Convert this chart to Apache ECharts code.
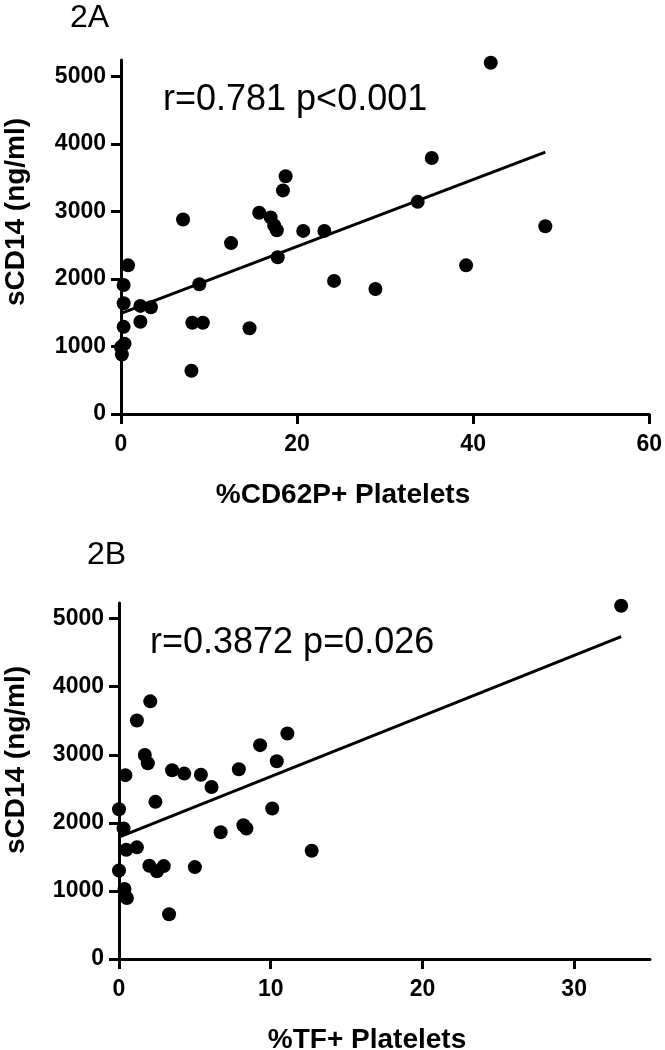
<!DOCTYPE html>
<html>
<head>
<meta charset="utf-8">
<script src="https://cdn.jsdelivr.net/npm/echarts@6/dist/echarts.min.js"></script>
<style>
html,body{margin:0;padding:0;background:#fff;}
#chart{width:665px;height:1050px;}
</style>
</head>
<body>
<div id="chart"></div>
<script>
// ---- Data ----
// Panel 2A: %CD62P+ platelets vs sCD14 (ng/ml)
var cd62pX = [0.1, 0.0, 0.4, 0.3, 0.3, 0.3, 0.8, 2.2, 3.4, 2.2, 8.1, 9.3, 8.0, 8.9, 7.05, 12.5, 14.6, 15.7, 17.0, 17.4, 17.7, 17.8, 18.4, 18.7, 20.7, 23.1, 24.2, 28.9, 33.7, 35.3, 39.2, 42.0, 48.2];
var cd62pY = [880, 990, 1040, 1290, 1640, 1910, 2200, 1600, 1580, 1365, 1350, 1350, 640, 1920, 2880, 2530, 1270, 2980, 2910, 2790, 2720, 2320, 3310, 3520, 2710, 2710, 1970, 1850, 3140, 3790, 2200, 5200, 2780];
var fitAX = [0, 48.2];
var fitAY = [1490, 3875];

// Panel 2B: %TF+ platelets vs sCD14 (ng/ml)
var tfX = [33.1, 12.7, 11.1, 9.3, 10.4, 10.1, 7.9, 8.2, 8.4, 6.7, 6.1, 5.4, 4.3, 3.5, 5.0, 3.3, 2.95, 2.5, 2.0, 2.4, 1.7, 1.9, 2.06, 1.18, 0.42, 0.0, 0.3, 0.48, 1.18, 0.0, 0.36, 0.52];
var tfY = [5190, 1590, 3312, 3142, 2905, 2211, 2788, 1966, 1918, 1863, 2527, 2706, 2724, 2772, 1350, 658, 1365, 1289, 1370, 2309, 2996, 2875, 3785, 3503, 2701, 2199, 1917, 1605, 1640, 1301, 1030, 897];
var fitBX = [0, 33.1];
var fitBY = [1790, 4735];

// Axis ticks
var yTicks = [0, 1000, 2000, 3000, 4000, 5000];
var xTicksA = [0, 20, 40, 60];
var xTicksB = [0, 10, 20, 30];

// Text
var panelA = '2A', panelB = '2B';
var statA = 'r=0.781 p<0.001';
var statB = 'r=0.3872 p=0.026';
var yTitle = 'sCD14 (ng/ml)';
var xTitleA = '%CD62P+ Platelets';
var xTitleB = '%TF+ Platelets';

function pairs(xs, ys) { return xs.map(function (x, i) { return [x, ys[i]]; }); }

var FONT = "'Liberation Sans', Arial, Helvetica, sans-serif";
var axisLine = { show: true, lineStyle: { color: '#000', width: 3 } };
function plain(v) { return String(v); }
function xAxisDef(gi, max, ticks) {
  return {
    type: 'value', gridIndex: gi, min: 0, max: max,
    axisLine: axisLine,
    axisTick: { show: true, length: 10, lineStyle: { color: '#000', width: 3 }, customValues: ticks },
    axisLabel: { color: '#000', fontFamily: FONT, fontWeight: 'bold', fontSize: 23, margin: 19, customValues: ticks, formatter: plain },
    splitLine: { show: false }
  };
}
function yAxisDef(gi, max) {
  return {
    type: 'value', gridIndex: gi, min: 0, max: max,
    axisLine: axisLine,
    axisTick: { show: true, length: 10, lineStyle: { color: '#000', width: 3 }, customValues: yTicks },
    axisLabel: { color: '#000', fontFamily: FONT, fontWeight: 'bold', fontSize: 23, margin: 15, customValues: yTicks, formatter: plain },
    splitLine: { show: false }
  };
}
function txt(x, y, s, size, weight, extra) {
  var o = { type: 'text', x: x, y: y, z: 10, style: { text: s, fill: '#000', font: weight + ' ' + size + 'px ' + FONT, textAlign: 'left', textVerticalAlign: 'bottom' } };
  if (extra) { for (var k in extra) o.style[k] = extra[k]; }
  return o;
}
function rotTxt(x, y, s) {
  return { type: 'text', x: x, y: y, rotation: Math.PI / 2, z: 10,
    style: { text: s, fill: '#000', font: 'bold 28px ' + FONT, textAlign: 'center', textVerticalAlign: 'middle' } };
}

var dotStyle = { color: '#000', opacity: 1 };
var chart = echarts.init(document.getElementById('chart'), null, { renderer: 'canvas' });
chart.setOption({
  animation: false,
  backgroundColor: '#fff',
  grid: [
    { left: 121, top: 60, width: 530, height: 354 },
    { left: 119, top: 603, width: 531, height: 356 }
  ],
  xAxis: [xAxisDef(0, 60, xTicksA), xAxisDef(1, 35, xTicksB)],
  yAxis: [yAxisDef(0, 5240), yAxisDef(1, 5230)],
  series: [
    { type: 'scatter', xAxisIndex: 0, yAxisIndex: 0, data: pairs(cd62pX, cd62pY), symbolSize: 14, itemStyle: dotStyle, clip: false, z: 3 },
    { type: 'line', xAxisIndex: 0, yAxisIndex: 0, data: pairs(fitAX, fitAY), symbol: 'none', lineStyle: { color: '#000', width: 3 }, z: 2 },
    { type: 'scatter', xAxisIndex: 1, yAxisIndex: 1, data: pairs(tfX, tfY), symbolSize: 14, itemStyle: dotStyle, clip: false, z: 3 },
    { type: 'line', xAxisIndex: 1, yAxisIndex: 1, data: pairs(fitBX, fitBY), symbol: 'none', lineStyle: { color: '#000', width: 3 }, z: 2 }
  ],
  graphic: [
    txt(70, 34, panelA, 32, 'normal'),
    txt(87, 571, panelB, 32, 'normal'),
    txt(163, 118, statA, 36, 'normal'),
    txt(150, 661, statB, 36, 'normal'),
    rotTxt(16, 212, yTitle),
    rotTxt(16, 760, yTitle),
    txt(343, 509, xTitleA, 28, 'bold', { textAlign: 'center' }),
    txt(367, 1054, xTitleB, 28, 'bold', { textAlign: 'center' })
  ]
});
</script>
</body>
</html>
